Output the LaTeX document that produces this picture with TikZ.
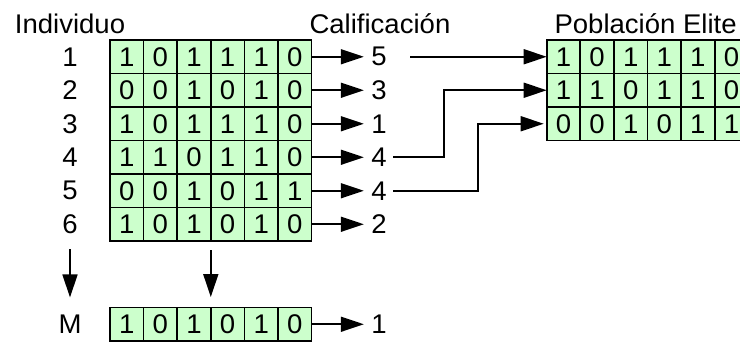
\documentclass[tikz,border=0pt]{standalone}
\usepackage{fontspec}
\setmainfont[FakeStretch=1.02]{Liberation Sans}
\usetikzlibrary{arrows.meta}

\definecolor{cellgreen}{RGB}{204,255,204}

\tikzset{
  cell/.style={draw, fill=cellgreen, line width=1.7pt, minimum width=33.6pt,
    minimum height=33.5pt, inner sep=0pt, outer sep=0pt},
  tip/.style={-{Triangle[length=23pt,width=15pt]}, line width=1.7pt},
  every node/.style={font=\fontsize{27pt}{32pt}\selectfont},
}

\begin{document}
\begin{tikzpicture}[x=1pt,y=-1pt]
  \useasboundingbox (0,0) rectangle (740,341);
  \def\cw{33.6} % cell width
  \def\ch{33.5} % cell height

  % headers
  \node[anchor=base] (hind) at (70,33) {Individuo};
  \node[anchor=base west] (hcal) at (306,33) {Calificación};
  \node[anchor=base west] (helite) at (551,33) {Población Elite};

  % population
  \foreach \bits/\s [count=\r] in {{1,0,1,1,1,0}/5,{0,0,1,0,1,0}/3,{1,0,1,1,1,0}/1,
      {1,1,0,1,1,0}/4,{0,0,1,0,1,1}/4,{1,0,1,0,1,0}/2}{
    \node (i\r) at (70,{40+\ch*\r-\ch/2}) {\r};
    \foreach \b [count=\c] in \bits
      \node[cell] (p-\r-\c) at ({110+\cw*\c-\cw/2},{40+\ch*\r-\ch/2}) {\b};
    \node (s\r) at (379,{40+\ch*\r-\ch/2}) {\s};
    \draw[tip, shorten >=4pt] (p-\r-6.east) -- (s\r.west);
  }

  % last individual
  \node (iM) at (70,{307.5+\ch/2}) {M};
  \foreach \b [count=\c] in {1,0,1,0,1,0}
    \node[cell] (m-\c) at ({110+\cw*\c-\cw/2},{307.5+\ch/2}) {\b};
  \node (sM) at (379,{307.5+\ch/2}) {1};
  \draw[tip, shorten >=4pt] (m-6.east) -- (sM.west);

  \draw[tip] ([yshift=-12pt]i6.south) -- ([yshift=14pt]iM.north);
  \draw[tip] ([yshift=-9pt]p-6-3.south east) -- ([yshift=10.5pt]m-3.north east);

  % elite
  \foreach \bits [count=\r] in {{1,0,1,1,1,0},{1,1,0,1,1,0},{0,0,1,0,1,1}}
    \foreach \b [count=\c] in \bits
      \node[cell] (e-\r-\c) at ({546.7+\cw*\c-\cw/2},{40+\ch*\r-\ch/2}) {\b};

  \draw[tip] ([xshift=20pt]s1.east) -- (e-1-1.west);
  \draw[tip] ([xshift=3pt]s4.east) -- ++(51,0) |- (e-2-1.west);
  \draw[tip, shorten >=3pt] ([xshift=3pt]s5.east) -- ++(85,0) |- (e-3-1.west);
\end{tikzpicture}
\end{document}
